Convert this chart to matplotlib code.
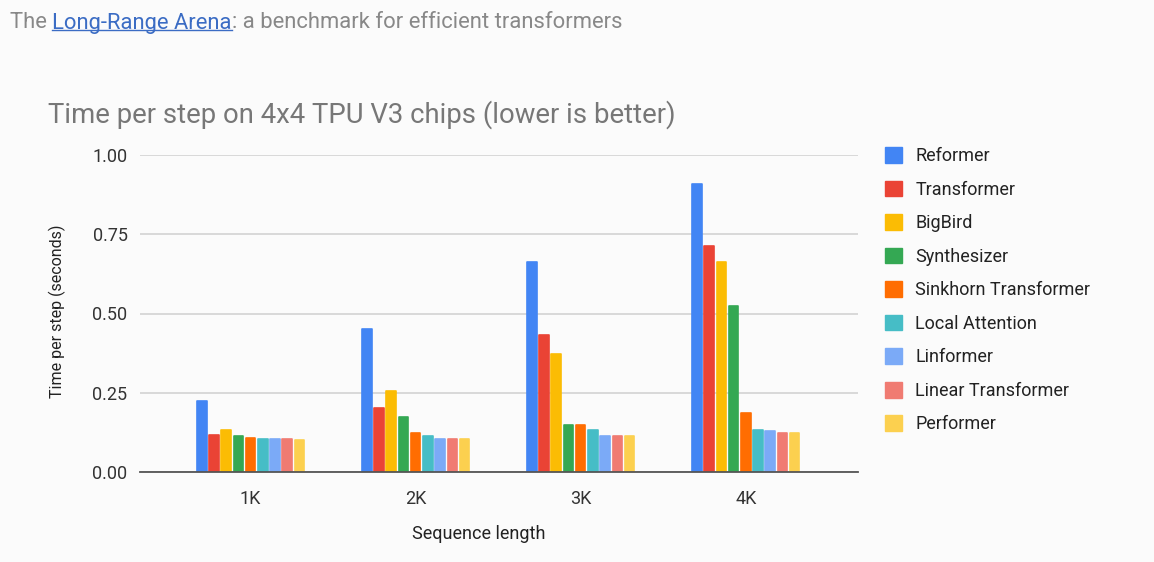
import matplotlib.pyplot as plt
import numpy as np
from matplotlib.lines import Line2D
from matplotlib.patches import Patch

plt.rcParams['font.family'] = ['Roboto', 'DejaVu Sans']

seq_lengths = ['1K', '2K', '3K', '4K']
models = ['Reformer', 'Transformer', 'BigBird', 'Synthesizer', 'Sinkhorn Transformer',
          'Local Attention', 'Linformer', 'Linear Transformer', 'Performer']
colors = ['#4285F4', '#EA4335', '#FBBC04', '#34A853', '#FF6D01',
          '#46BDC6', '#7BAAF7', '#F07B72', '#FCD04F']

# time per step (seconds), one list per model: 1K, 2K, 3K, 4K
reformer = [0.223, 0.452, 0.663, 0.909]
transformer = [0.118, 0.203, 0.432, 0.712]
bigbird = [0.134, 0.255, 0.371, 0.663]
synthesizer = [0.115, 0.173, 0.148, 0.523]
sinkhorn = [0.106, 0.124, 0.148, 0.187]
local_attn = [0.105, 0.115, 0.133, 0.132]
linformer = [0.105, 0.105, 0.113, 0.128]
linear_tf = [0.105, 0.105, 0.113, 0.124]
performer = [0.100, 0.105, 0.113, 0.124]
values = [reformer, transformer, bigbird, synthesizer, sinkhorn,
          local_attn, linformer, linear_tf, performer]

W, H = 1154, 562
fig = plt.figure(figsize=(W / 100, H / 100), dpi=100)
fig.patch.set_facecolor('#fbfbfb')
ax = fig.add_axes([140 / W, 1 - 472 / H, (858 - 140) / W, (472 - 155) / H])
ax.set_facecolor('#fbfbfb')

x = np.arange(len(seq_lengths))
pitch = 0.074
bw = 0.058
for i, (name, vals) in enumerate(zip(models, values)):
    offs = (i - (len(models) - 1) / 2) * pitch
    ax.bar(x + offs, vals, width=bw, color=colors[i], edgecolor=colors[i],
           linewidth=1.2, joinstyle='round', zorder=3, label=name)

ax.set_xlim(-0.67, 3.68)
ax.set_ylim(0, 1.0)
ax.set_yticks([0, 0.25, 0.5, 0.75, 1.0])
ax.set_yticklabels(['0.00', '0.25', '0.50', '0.75', '1.00'])
ax.set_xticks(x)
ax.set_xticklabels(seq_lengths)
ax.grid(axis='y', color='#d6d6d6', linewidth=1.3, zorder=0)
ax.tick_params(length=0, labelsize=13, labelcolor='#333333')
ax.tick_params(axis='y', pad=9)
ax.tick_params(axis='x', pad=13)
for s in ['top', 'right', 'left']:
    ax.spines[s].set_visible(False)
ax.spines['bottom'].set_color('#555555')
ax.spines['bottom'].set_linewidth(1.3)
ax.spines['bottom'].set_zorder(4)

fig.text(57 / W, 1 - 311 / H, 'Time per step (seconds)', rotation=90,
         ha='center', va='center', fontsize=11.5, color='#222222')
fig.text(479 / W, 1 - 534 / H, 'Sequence length', ha='center', va='center',
         fontsize=13, color='#222222')
fig.text(48 / W, 1 - 115 / H, 'Time per step on 4x4 TPU V3 chips (lower is better)',
         ha='left', va='center', fontsize=19.8, color='#777777')

# legend
handles = [Patch(facecolor=c, edgecolor=c) for c in colors]
leg = fig.legend(handles, models, loc='upper left',
                 bbox_to_anchor=(869 / W, 1 - 131 / H), frameon=False,
                 fontsize=13, handlelength=0.95, handleheight=0.95,
                 labelspacing=0.86, handletextpad=0.72)
for t in leg.get_texts():
    t.set_color('#222222')

# caption with link
t1 = fig.text(10 / W, 1 - 23 / H, 'The ', ha='left', va='center',
              fontsize=15.8, color='#888888')
t2 = ax.annotate('Long-Range Arena', xy=(1, 0.5), xycoords=t1, ha='left',
                 va='center', fontsize=15.8, color='#3b6cc4',
                 annotation_clip=False)
t3 = ax.annotate(': a benchmark for efficient transformers', xy=(1, 0.5),
                 xycoords=t2, ha='left', va='center', fontsize=15.8,
                 color='#888888', annotation_clip=False)
fig.canvas.draw()
bb = t2.get_window_extent()
fig.add_artist(Line2D([bb.x0 / W, bb.x1 / W], [(bb.y0 + 4) / H, (bb.y0 + 4) / H],
                      color='#3b6cc4', linewidth=1.0))

fig.savefig('out.png', dpi=100, facecolor=fig.get_facecolor())
